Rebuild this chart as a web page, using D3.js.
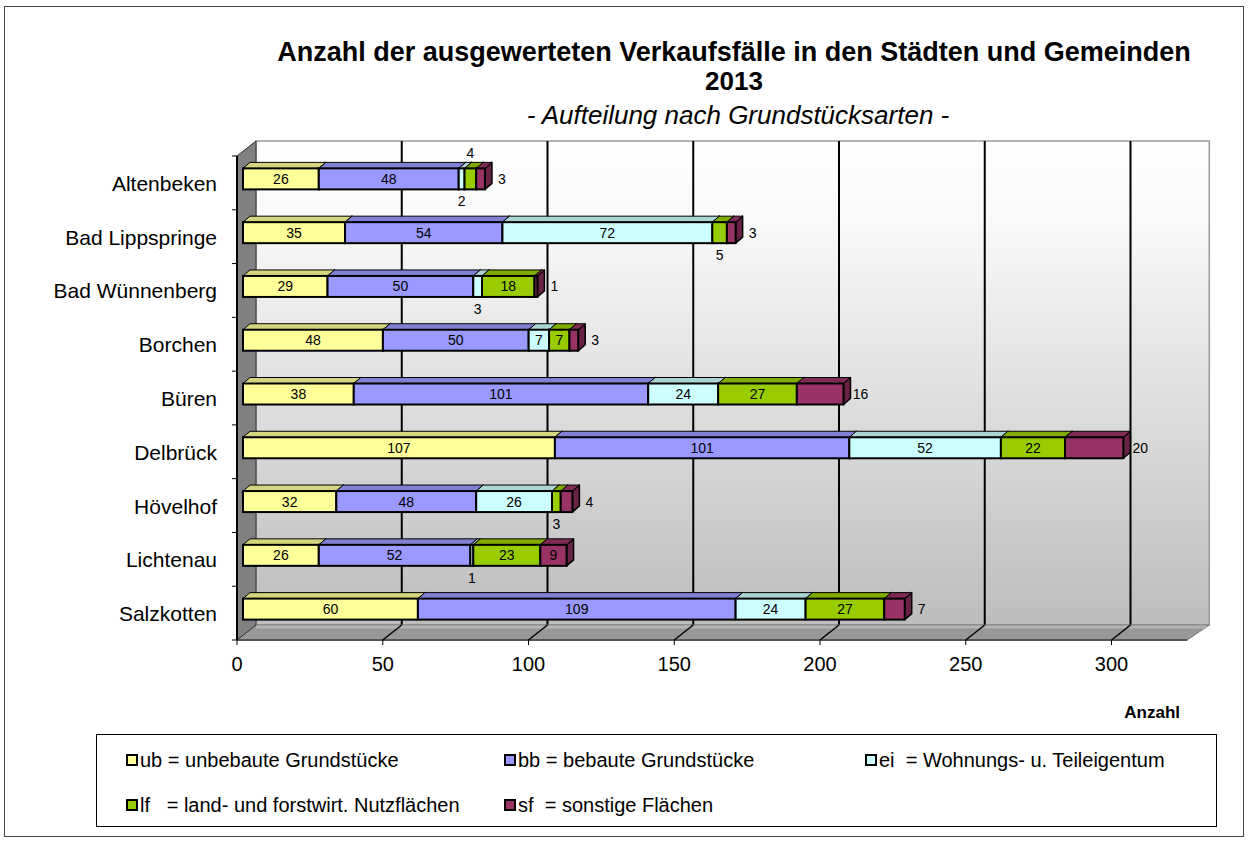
<!DOCTYPE html>
<html>
<head>
<meta charset="utf-8">
<title>Verkaufsfälle 2013</title>
<script src="https://cdn.jsdelivr.net/npm/d3@7"></script>
<style>
    body { margin: 0; background: #fff; }
    text { font-family: "Liberation Sans", Arial, sans-serif; }
</style>
</head>
<body>
<script>
// data
var categories = ["Altenbeken", "Bad Lippspringe", "Bad Wünnenberg", "Borchen", "Büren",
                  "Delbrück", "Hövelhof", "Lichtenau", "Salzkotten"];
var ub = [26, 35, 29, 48, 38, 107, 32, 26, 60];
var bb = [48, 54, 50, 50, 101, 101, 48, 52, 109];
var ei = [2, 72, 3, 7, 24, 52, 26, 1, 24];
var lf = [4, 5, 18, 7, 27, 22, 3, 23, 27];
var sf = [3, 3, 1, 3, 16, 20, 4, 9, 7];
var seriesKeys = ["ub", "bb", "ei", "lf", "sf"];
var seriesLabels = ["ub = unbebaute Grundstücke", "bb = bebaute Grundstücke",
                    "ei  = Wohnungs- u. Teileigentum", "lf   = land- und forstwirt. Nutzflächen",
                    "sf  = sonstige Flächen"];
var xTicks = [0, 50, 100, 150, 200, 250, 300];

// where the small values have their label outside the bar
var outsideLabels = {
    "Altenbeken": {ei: "below", lf: "above", sf: "right"},
    "Bad Lippspringe": {lf: "below", sf: "right"},
    "Bad Wünnenberg": {ei: "below", sf: "right"},
    "Borchen": {sf: "right"},
    "Büren": {sf: "right"},
    "Delbrück": {sf: "right"},
    "Hövelhof": {lf: "below", sf: "right"},
    "Lichtenau": {ei: "below"},
    "Salzkotten": {sf: "right"}
};

var colors = {ub: "#FFFF99", bb: "#9999FF", ei: "#CCFFFF", lf: "#99CC00", sf: "#993366"};

var table = categories.map(function(c, i) {
    return {name: c, ub: ub[i], bb: bb[i], ei: ei[i], lf: lf[i], sf: sf[i]};
});
var stacked = d3.stack().keys(seriesKeys)(table);

var w = 1248, h = 843;
var svg = d3.select("body").append("svg").attr("width", w).attr("height", h);

// front plane + depth of the 3d box
var fTop = 156, fBot = 640;
var dX = 19, dY = -15;
var x = d3.scaleLinear().domain([0, 300]).range([237, 1111.5]);
var xEnd = 326;
var y = d3.scaleBand().domain(categories).range([fTop, fBot]);

var defs = svg.append("defs");
var grad = defs.append("linearGradient").attr("id", "wall")
    .attr("x1", 0).attr("y1", 0).attr("x2", 0).attr("y2", 1);
grad.append("stop").attr("offset", "0%").attr("stop-color", "#ffffff");
grad.append("stop").attr("offset", "15%").attr("stop-color", "#fafafa");
grad.append("stop").attr("offset", "100%").attr("stop-color", "#bdbdbd");

// outer frame
svg.append("rect").attr("x", 4.5).attr("y", 6.5).attr("width", 1239).attr("height", 830)
    .attr("fill", "#fff").attr("stroke", "#444").attr("stroke-width", 1);

// back wall
svg.append("rect")
    .attr("x", x(0) + dX).attr("y", fTop + dY)
    .attr("width", x(xEnd) - x(0) + 3).attr("height", fBot - fTop)
    .attr("fill", "url(#wall)").attr("stroke", "#9a9a9a").attr("stroke-width", 1.5);

// gridlines on the back wall
svg.selectAll(".grid").data(xTicks.slice(1)).enter().append("line")
    .attr("x1", function(d) { return x(d) + dX; })
    .attr("x2", function(d) { return x(d) + dX; })
    .attr("y1", fTop + dY).attr("y2", fBot + dY)
    .attr("stroke", "#000").attr("stroke-width", 2);

// floor
svg.append("path")
    .attr("d", "M" + x(0) + "," + fBot + "L" + (x(0) + dX) + "," + (fBot + dY) +
        "L" + (x(xEnd) + dX + 3) + "," + (fBot + dY) + "L" + x(xEnd) + "," + fBot + "Z")
    .attr("fill", "#989898").attr("stroke", "#7a7a7a").attr("stroke-width", 1);
svg.append("line")
    .attr("x1", x(0) + dX).attr("x2", x(xEnd) + dX)
    .attr("y1", fBot + dY + 2).attr("y2", fBot + dY + 2)
    .attr("stroke", "#b4b4b4").attr("stroke-width", 3);
svg.append("line")
    .attr("x1", x(0)).attr("x2", x(xEnd))
    .attr("y1", fBot).attr("y2", fBot)
    .attr("stroke", "#555").attr("stroke-width", 2);
svg.selectAll(".floorgrid").data(xTicks.slice(1)).enter().append("line")
    .attr("x1", function(d) { return x(d) + dX; })
    .attr("x2", function(d) { return x(d); })
    .attr("y1", fBot + dY).attr("y2", fBot)
    .attr("stroke", "#000").attr("stroke-width", 1.5);

// left wall
svg.append("path")
    .attr("d", "M" + x(0) + "," + fTop + "L" + (x(0) + dX) + "," + (fTop + dY) +
        "L" + (x(0) + dX) + "," + (fBot + dY) + "L" + x(0) + "," + fBot + "Z")
    .attr("fill", "#808080").attr("stroke", "#333").attr("stroke-width", 1);
svg.append("line").attr("x1", x(0)).attr("x2", x(0)).attr("y1", fTop).attr("y2", fBot)
    .attr("stroke", "#000").attr("stroke-width", 2);

// category ticks + labels
var bounds = categories.map(function(c) { return y(c); }).concat([fBot]);
svg.selectAll(".ytick").data(bounds).enter().append("line")
    .attr("x1", x(0) - 5).attr("x2", x(0))
    .attr("y1", function(d) { return d; }).attr("y2", function(d) { return d; })
    .attr("stroke", "#000").attr("stroke-width", 1);
svg.selectAll(".ylab").data(categories).enter().append("text")
    .attr("x", 217)
    .attr("y", function(d) { return y(d) + y.bandwidth() / 2 + 8; })
    .attr("text-anchor", "end").attr("font-size", "21px").attr("fill", "#000")
    .text(function(d) { return d; });

// value axis ticks + labels
svg.selectAll(".xtick").data(xTicks).enter().append("line")
    .attr("x1", function(d) { return x(d); }).attr("x2", function(d) { return x(d); })
    .attr("y1", fBot).attr("y2", fBot + 5)
    .attr("stroke", "#000").attr("stroke-width", 1);
svg.selectAll(".xlab").data(xTicks).enter().append("text")
    .attr("x", function(d) { return x(d); })
    .attr("y", 671)
    .attr("text-anchor", "middle").attr("font-size", "20px")
    .text(function(d) { return d; });

svg.append("text").attr("x", 1180).attr("y", 718)
    .attr("text-anchor", "end").attr("font-size", "17px").attr("font-weight", "bold")
    .text("Anzahl");

// bars
var barOff = 6, barH = 21, bdx = 7, bdy = -6;
function bx(v) { return x(v) + barOff; }
function barTop(c) { return y(c) + y.bandwidth() / 2 - 4 - barH / 2; }

var bars = svg.append("g");
categories.forEach(function(c, ci) {
    var g = bars.append("g");
    var t = barTop(c);
    stacked.forEach(function(s) {
        var d = s[ci];
        var x0 = bx(d[0]), x1 = bx(d[1]);
        var col = colors[s.key];
        // side
        g.append("path")
            .attr("d", "M" + x1 + "," + t + "L" + (x1 + bdx) + "," + (t + bdy) +
                "L" + (x1 + bdx) + "," + (t + bdy + barH) + "L" + x1 + "," + (t + barH) + "Z")
            .attr("fill", d3.color(col).darker(1.1)).attr("stroke", "#000").attr("stroke-width", 1.5)
            .attr("stroke-linejoin", "round");
        // top
        g.append("path")
            .attr("d", "M" + x0 + "," + t + "L" + (x0 + bdx) + "," + (t + bdy) +
                "L" + (x1 + bdx) + "," + (t + bdy) + "L" + x1 + "," + t + "Z")
            .attr("fill", d3.color(col).darker(0.5)).attr("stroke", "#000").attr("stroke-width", 1)
            .attr("stroke-linejoin", "round");
        // front
        g.append("rect")
            .attr("x", x0).attr("y", t).attr("width", x1 - x0).attr("height", barH)
            .attr("fill", col).attr("stroke", "#000").attr("stroke-width", 2);
    });
});

// value labels
var labels = svg.append("g").attr("font-size", "14px").attr("fill", "#000");
categories.forEach(function(c, ci) {
    var t = barTop(c);
    var over = outsideLabels[c] || {};
    stacked.forEach(function(s) {
        var d = s[ci];
        var v = d[1] - d[0];
        var cx = (bx(d[0]) + bx(d[1])) / 2;
        var pos = over[s.key] || "in";
        var lx = cx, ly = t + barH / 2 + 5;
        if (pos == "above") ly = t - 10;
        if (pos == "below") ly = t + barH + 17;
        if (pos == "right") lx = bx(d[1]) + 17;
        labels.append("text").attr("x", lx).attr("y", ly)
            .attr("text-anchor", "middle").text(v);
    });
});

// titles
svg.append("text").attr("x", 734).attr("y", 61)
    .attr("text-anchor", "middle").attr("font-size", "27px").attr("font-weight", "bold")
    .text("Anzahl der ausgewerteten Verkaufsfälle in den Städten und Gemeinden");
svg.append("text").attr("x", 734).attr("y", 90)
    .attr("text-anchor", "middle").attr("font-size", "26px").attr("font-weight", "bold")
    .text("2013");
svg.append("text").attr("x", 738).attr("y", 124)
    .attr("text-anchor", "middle").attr("font-size", "26px").attr("font-style", "italic")
    .text("- Aufteilung nach Grundstücksarten -");

// legend
var legX = [127, 505, 866];
svg.append("rect").attr("x", 96.5).attr("y", 734.5).attr("width", 1120).attr("height", 92)
    .attr("fill", "#fff").attr("stroke", "#000").attr("stroke-width", 1);
var leg = svg.selectAll(".leg").data(seriesKeys).enter().append("g")
    .attr("transform", function(d, i) {
        return "translate(" + legX[i % 3] + "," + (i < 3 ? 760 : 805) + ")";
    });
leg.append("rect").attr("x", 0).attr("y", -5).attr("width", 10).attr("height", 10)
    .attr("fill", function(d) { return colors[d]; })
    .attr("stroke", "#000").attr("stroke-width", 2);
leg.append("text").attr("x", 13).attr("y", 7)
    .attr("font-size", "20px").style("white-space", "pre")
    .text(function(d, i) { return seriesLabels[i]; });
</script>
</body>
</html>
